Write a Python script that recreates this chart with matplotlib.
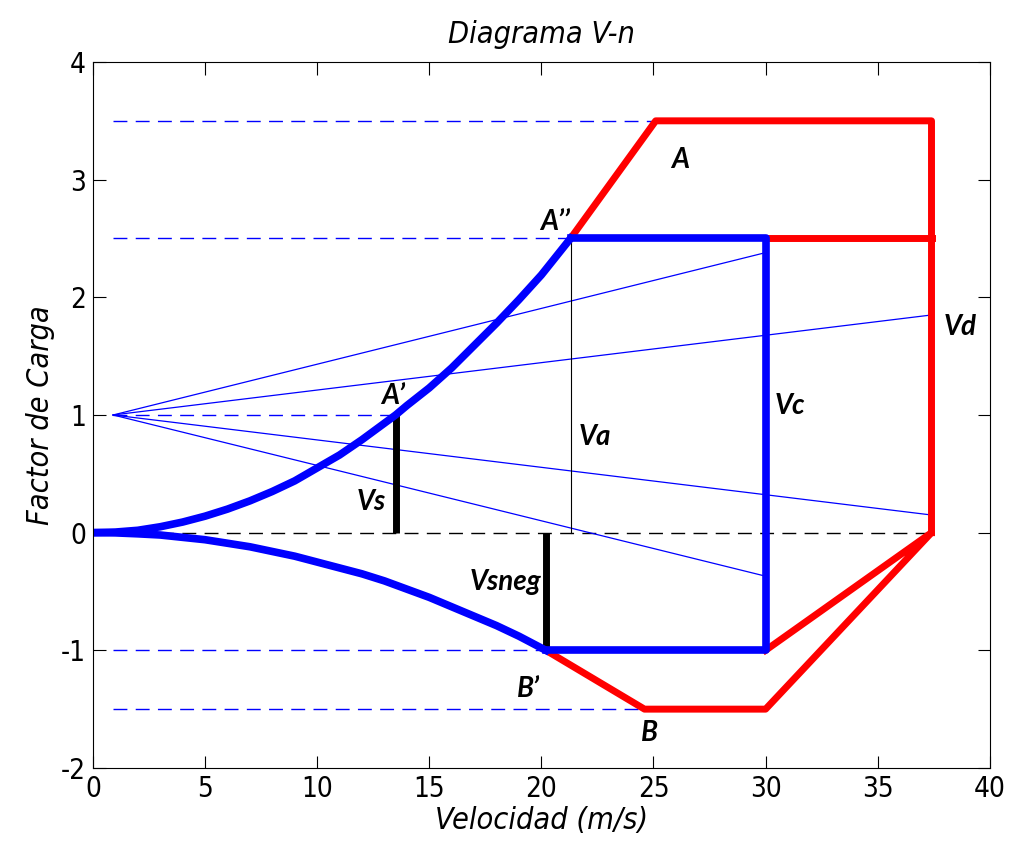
import matplotlib
matplotlib.use("Agg")
import matplotlib.pyplot as plt

plt.rcParams["axes.unicode_minus"] = False

# positive stall curve
v_pos = [0, 1, 2, 3, 4, 5, 6, 7, 8, 9, 10, 11, 12, 13, 13.5, 14, 15, 16, 17, 18, 19, 20, 21.3]
n_pos = [0, 0.005, 0.02, 0.05, 0.09, 0.14, 0.2, 0.27, 0.35, 0.44, 0.55, 0.66, 0.79, 0.93, 1.0,
         1.08, 1.23, 1.40, 1.59, 1.78, 1.98, 2.19, 2.5]
# negative stall curve
v_neg = [0, 1, 2, 3, 4, 5, 6, 7, 8, 9, 10, 11, 12, 13, 14, 15, 16, 17, 18, 19, 20.2]
n_neg = [0, -0.002, -0.01, -0.02, -0.04, -0.06, -0.09, -0.12, -0.16, -0.2, -0.25, -0.3,
         -0.35, -0.41, -0.48, -0.55, -0.63, -0.71, -0.79, -0.88, -1.0]

# manoeuvre envelope (blue)
blue_x = [21.3, 30, 30, 20.2]
blue_y = [2.5, 2.5, -1, -1]
# gust envelope (red)
red_top_x = [21.3, 25.1, 37.4, 37.4]
red_top_y = [2.5, 3.5, 3.5, 0]
red_mid_x = [30, 37.4]
red_mid_y = [2.5, 2.5]
red_bot_x = [20.2, 24.6, 30, 37.4, 30]
red_bot_y = [-1, -1.5, -1.5, 0, -1]

# gust lines from (0.9, 1)
gust_start = (0.9, 1.0)
gust_end_x = [30, 37.4, 37.4, 30]
gust_end_y = [2.38, 1.85, 0.15, -0.37]

# reference dashed levels: (level, end speed)
levels = [3.5, 2.5, 1.0, -1.0, -1.5]
level_end = [25.1, 21.3, 13.5, 20.2, 24.6]
v_max = 37.4

Vs, Vsneg, Va = 13.5, 20.2, 21.3

labels = [("A", 26.2, 3.17), ("A\u2019\u2019", 20.6, 2.64), ("A\u2019", 13.4, 1.16),
          ("Vs", 12.4, 0.26), ("Va", 22.4, 0.81), ("Vc", 31.1, 1.08),
          ("Vd", 38.7, 1.75), ("Vsneg", 18.4, -0.42), ("B\u2019", 19.4, -1.33),
          ("B", 24.8, -1.70)]

fig = plt.figure(figsize=(10.10, 8.47), dpi=100)
ax = fig.add_axes([0.092, 0.0933, 0.888, 0.8335])

narrow = dict(family=["DejaVu Sans", "Liberation Sans"], stretch="condensed")

for lv, ve in zip(levels, level_end):
    ax.plot([gust_start[0], ve], [lv, lv], color="blue", lw=1.0, dashes=(10, 6))
ax.plot([0, v_max], [0, 0], color="black", lw=1.0, dashes=(10, 6))

for ex, ey in zip(gust_end_x, gust_end_y):
    ax.plot([gust_start[0], ex], [gust_start[1], ey], color="blue", lw=0.9)

ax.plot([Va, Va], [0, 2.5], color="black", lw=0.8)
ax.plot([Vs, Vs], [0, 1], color="black", lw=5, solid_capstyle="butt")
ax.plot([Vsneg, Vsneg], [0, -1], color="black", lw=5, solid_capstyle="butt")

ax.plot(red_top_x, red_top_y, color="red", lw=5)
ax.plot(red_mid_x, red_mid_y, color="red", lw=5)
ax.plot(red_bot_x, red_bot_y, color="red", lw=5)

ax.plot(v_pos, n_pos, color="blue", lw=5.5)
ax.plot(v_neg, n_neg, color="blue", lw=5.5)
ax.plot(blue_x, blue_y, color="blue", lw=5.5)

for txt, x, y in labels:
    ax.text(x, y, txt, fontsize=20, fontweight="bold", style="italic",
            family=["Lato", "DejaVu Sans"], ha="center", va="center")

ax.set_xlim(0, 40)
ax.set_ylim(-2, 4)
ax.set_xticks(range(0, 41, 5))
ax.set_yticks(range(-2, 5))
ax.tick_params(direction="in", length=9, top=True, right=True, labelsize=20, pad=5)
for lab in ax.get_xticklabels() + ax.get_yticklabels():
    lab.set_family(narrow["family"])
    lab.set_stretch(narrow["stretch"])

ax.set_title("Diagrama V-n", fontsize=22, style="italic", pad=14, **narrow)
ax.set_xlabel("Velocidad (m/s)", fontsize=22, style="italic", labelpad=2, **narrow)
ax.set_ylabel("Factor de Carga", fontsize=22, style="italic", labelpad=4, **narrow)

fig.savefig("out.png", dpi=100)
